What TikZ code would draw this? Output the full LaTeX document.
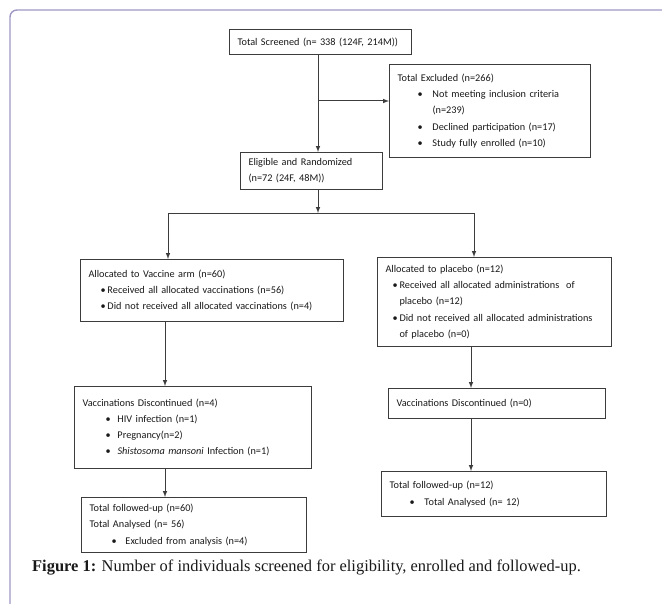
\documentclass[tikz,border=0pt]{standalone}
\usepackage{fontspec}
\setmainfont{Carlito}
\newfontfamily\capfont{Liberation Serif}
\usetikzlibrary{arrows}
\definecolor{framecol}{HTML}{9C97C3}
\definecolor{linecol}{HTML}{3C3C3C}
\newcommand{\bul}[3]{\hspace*{#1bp}\makebox[#2bp][l]{\textbullet}#3}

\begin{document}
\begin{tikzpicture}[x=1bp,y=-1bp]
            \tikzset{box/.style={draw=linecol, line width=1bp, anchor=north west, inner xsep=8bp, inner ysep=0pt, align=left, font=\fontsize{10.3}{16.3}\selectfont, text=black!90}};
            \tikzset{line/.style={draw=linecol, line width=1bp, >=latex}};
            
            \useasboundingbox (0,0) rectangle (662,604);
            \draw[framecol, line width=1.4bp, rounded corners=7bp] (10,700) -- (10,10) -- (700,10);
            
            \node[box, text width=166bp, minimum height=25bp] (scr) at (229,29) {Total Screened (n= 338 (124F, 214M))};
            \node[box, text width=185bp, minimum height=93bp] (excl) at (389,64) {Total Excluded (n=266)\\ \bul{20}{15}{Not meeting inclusion criteria}\\ \hspace*{35bp}(n=239)\\ \bul{20}{15}{Declined participation (n=17)}\\ \bul{20}{15}{Study fully enrolled (n=10)}};
            \node[box, text width=126bp, minimum height=37bp] (elig) at (240,152) {Eligible and Randomized\\(n=72 (24F, 48M))};
            
            \node[box, text width=247bp, minimum height=62bp] (vac) at (80,259) {Allocated to Vaccine arm (n=60)\\ \bul{12}{7}{Received all allocated vaccinations (n=56)}\\ \bul{12}{7}{Did not received all allocated vaccinations (n=4)}};
            \node[box, text width=218bp, minimum height=89bp] (plc) at (377,257) {Allocated to placebo (n=12)\\ \bul{7}{7}{Received all allocated administrations\ \ of}\\ \hspace*{14bp}placebo (n=12)\\ \bul{7}{7}{Did not received all allocated administrations}\\ \hspace*{14bp}of placebo (n=0)};
            
            \node[box, text width=221bp, minimum height=82bp] (disv) at (74,386) {Vaccinations Discontinued (n=4)\\ \bul{23}{12}{HIV infection (n=1)}\\ \bul{23}{12}{Pregnancy(n=2)}\\ \bul{23}{12}{\textit{Shistosoma mansoni} Infection (n=1)}};
            \node[box, text width=201bp, minimum height=30bp] (disp) at (388,388) {Vaccinations Discontinued (n=0)};
            
            \node[box, text width=209bp, minimum height=55bp] (fuv) at (81,497) {Total followed-up (n=60)\\ Total Analysed (n= 56)\\ \bul{22}{14}{Excluded from analysis (n=4)}};
            \node[box, text width=209bp, minimum height=45bp] (fup) at (381,471) {Total followed-up (n=12)\\ \bul{20}{15}{Total Analysed (n= 12)}};
            
            \node[anchor=base west, inner sep=0pt, font=\capfont\fontsize{16.5}{18}\selectfont, text=black!90] (cap) at (32,571) {\textbf{Figure 1:} Number of individuals screened for eligibility, enrolled and followed-up.};
            
            \coordinate (brk) at (318,101);
            \coordinate (split) at (318,213);
            \coordinate (sl) at (168,213);
            \coordinate (sr) at (474,213);
            \coordinate (vcol) at (165,0);
            \coordinate (pcol) at (471,0);
            
            \draw[line,->] (brk |- scr.south) -- (brk |- elig.north);
            \draw[line,->] (brk) -- (brk -| excl.west);
            \draw[line,->] (brk |- elig.south) -- (split);
            \draw[line] (sl) -- (sr);
            \draw[line,->] (sl) -- (sl |- vac.north);
            \draw[line,->] (sr) -- (sr |- plc.north);
            \draw[line,->] (vcol |- vac.south) -- (vcol |- disv.north);
            \draw[line,->] (vcol |- disv.south) -- (vcol |- fuv.north);
            \draw[line,->] (pcol |- plc.south) -- (pcol |- disp.north);
            \draw[line,->] (pcol |- disp.south) -- (pcol |- fup.north);
        \end{tikzpicture}
\end{document}
